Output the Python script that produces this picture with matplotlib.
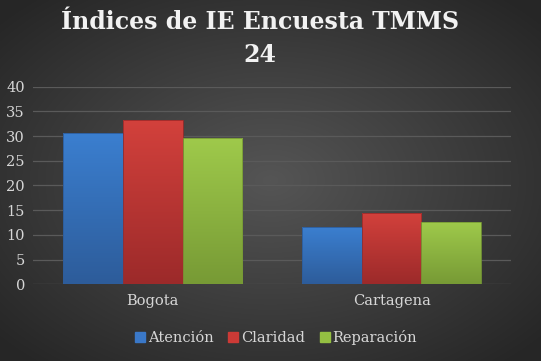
import numpy as np
import matplotlib
matplotlib.use("Agg")
import matplotlib.pyplot as plt
from matplotlib.colors import LinearSegmentedColormap
from matplotlib.patches import Patch

categories = ["Bogota", "Cartagena"]
series_names = ["Atención", "Claridad", "Reparación"]
atencion = [30.7, 11.5]
claridad = [33.3, 14.4]
reparacion = [29.6, 12.7]
values = [atencion, claridad, reparacion]
yticks = [0, 5, 10, 15, 20, 25, 30, 35, 40]
title = "Índices de IE Encuesta TMMS\n24"

top_colors = ["#3b7fd0", "#d3413c", "#9fca4b"]
bot_colors = ["#2d5c9a", "#9c2a2a", "#779a35"]
legend_colors = ["#3a78c8", "#cc3a36", "#94bf42"]

plt.rcParams['font.family'] = ['DejaVu Serif']

fig = plt.figure(figsize=(5.41, 3.61), dpi=100)

# radial background
bg = fig.add_axes([0, 0, 1, 1], zorder=-10)
yy, xx = np.mgrid[-1:1:361j, -1:1:541j]
r = np.sqrt((xx * 1.0) ** 2 + (yy * 1.0) ** 2)
r = np.clip(r / 1.35, 0, 1)
c0 = np.array([0x55, 0x55, 0x55]) / 255
c1 = np.array([0x26, 0x26, 0x26]) / 255
img = c0[None, None, :] * (1 - r[..., None]) + c1[None, None, :] * r[..., None]
bg.imshow(img, aspect='auto', extent=[0, 1, 0, 1], interpolation='bilinear')
bg.set_axis_off()

ax = fig.add_axes([0.0616, 0.2125, 0.883, 0.5475])
ax.set_facecolor('none')
ax.set_xlim(-0.5, 1.5)
ax.set_ylim(0, 40)

x = np.arange(len(categories))
width = 0.25
offsets = [-0.25, 0, 0.25]
for i, (vals, tc, bc) in enumerate(zip(values, top_colors, bot_colors)):
    bars = ax.bar(x + offsets[i], vals, width, color='none', edgecolor=bc,
                  linewidth=0.6, zorder=3)
    cmap = LinearSegmentedColormap.from_list("g%d" % i, [bc, tc])
    grad = np.linspace(0, 1, 256).reshape(-1, 1)
    for b in bars:
        x0, y0 = b.get_x(), b.get_y()
        w, h = b.get_width(), b.get_height()
        im = ax.imshow(grad, cmap=cmap, aspect='auto', origin='lower',
                       extent=[x0, x0 + w, y0, y0 + h], zorder=2,
                       interpolation='bilinear')
        im.set_clip_path(b)
ax.set_xlim(-0.5, 1.5)
ax.set_ylim(0, 40)

ax.set_yticks(yticks)
ax.set_xticks(x)
ax.set_xticklabels(categories)
ax.yaxis.grid(True, color='#5a5a5a', linewidth=0.9, zorder=0)
ax.set_axisbelow(True)
for s in ax.spines.values():
    s.set_visible(False)
ax.tick_params(axis='both', length=0, colors='#d6d6d6', labelsize=10.5)
ax.tick_params(axis='y', pad=6)
ax.tick_params(axis='x', pad=7)

fig.text(0.48, 0.893, title, ha='center', va='center', color='#f2f2f2',
         fontsize=17, fontweight='bold', linespacing=1.5)

handles = [Patch(facecolor=c, edgecolor=c) for c in legend_colors]
leg = fig.legend(handles, series_names, loc='center', bbox_to_anchor=(0.51, 0.064),
                 ncol=3, frameon=False, handlelength=0.7, handleheight=0.7,
                 handletextpad=0.2, columnspacing=1.0, fontsize=10.5)
for t in leg.get_texts():
    t.set_color('#d6d6d6')

fig.savefig("out.png", dpi=100)
